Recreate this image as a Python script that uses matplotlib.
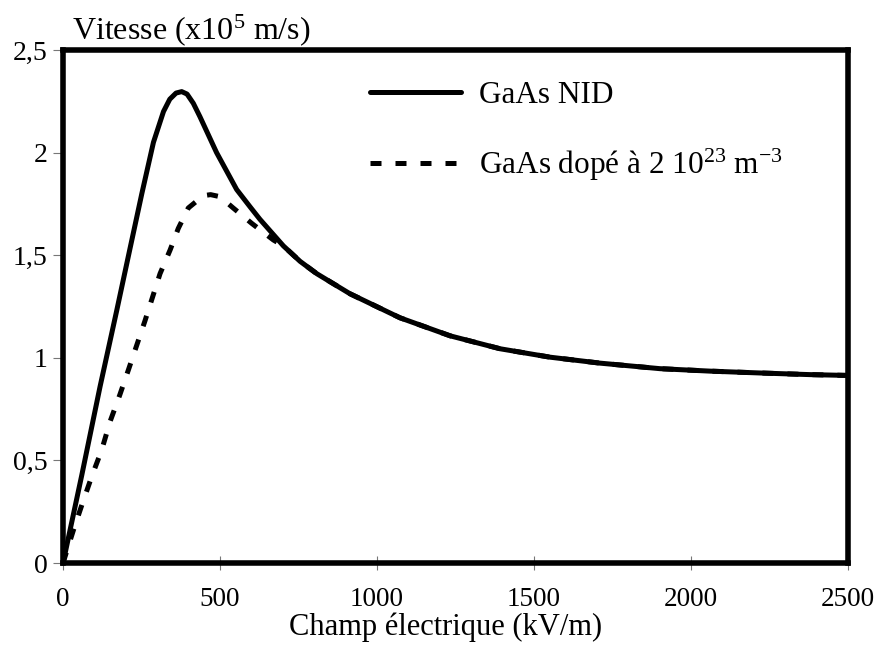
import matplotlib
matplotlib.use('Agg')
import matplotlib.pyplot as plt
from matplotlib.ticker import FixedLocator, FixedFormatter

# Values
field_nid = [0, 60, 118, 171, 213, 251, 288, 320, 340, 360, 378, 395, 415, 436, 489, 553,
             596, 627, 702, 755, 808, 914, 1073, 1233, 1392, 1551, 1710, 1901,
             2061, 2220, 2379, 2500]
speed_nid = [0, 0.43, 0.86, 1.23, 1.53, 1.80, 2.05, 2.20, 2.26, 2.29, 2.297, 2.285, 2.24,
             2.175, 2.0, 1.82, 1.735, 1.675, 1.545, 1.47, 1.41, 1.312, 1.195, 1.107,
             1.044, 1.003, 0.974, 0.947, 0.935, 0.926, 0.918, 0.914]

field_dop = [0, 33, 60, 91, 123, 150, 181, 208, 261, 309, 341, 367, 399, 447, 470, 500,
             542, 601, 670, 702, 755, 808, 914, 1073, 1233, 1392, 1551, 1710, 1901,
             2061, 2220, 2379, 2500]
speed_dop = [0, 0.16, 0.283, 0.42, 0.55, 0.69, 0.82, 0.94, 1.18, 1.41, 1.525, 1.63, 1.73,
             1.79, 1.795, 1.785, 1.73, 1.655, 1.574, 1.545, 1.47, 1.41, 1.312, 1.195,
             1.107, 1.044, 1.003, 0.974, 0.947, 0.935, 0.926, 0.918, 0.914]

xticks = [0, 500, 1000, 1500, 2000, 2500]
yticks = [0, 0.5, 1, 1.5, 2, 2.5]
ytick_labels = ['0', '0,5', '1', '1,5', '2', '2,5']

plt.rcParams['font.family'] = 'Liberation Serif'
plt.rcParams['mathtext.fontset'] = 'custom'
plt.rcParams['mathtext.rm'] = 'Liberation Serif'
plt.rcParams['mathtext.it'] = 'Liberation Serif'
plt.rcParams['font.size'] = 20

fig = plt.figure(figsize=(8.79, 6.47), dpi=100)
ax = fig.add_axes([0.0717, 0.1298, 0.893, 0.793])

ax.plot(field_dop, speed_dop, color='black', linewidth=3.6, dashes=(2.2, 2.8),
        dash_capstyle='butt', label='GaAs dopé à 2 10$^{23}$ m$^{-3}$', zorder=2)
ax.plot(field_nid, speed_nid, color='black', linewidth=3.6, solid_capstyle='round',
        solid_joinstyle='round', label='GaAs NID', zorder=3)

ax.set_xlim(0, 2500)
ax.set_ylim(0, 2.5)
ax.xaxis.set_major_locator(FixedLocator(xticks))
ax.yaxis.set_major_locator(FixedLocator(yticks))
ax.yaxis.set_major_formatter(FixedFormatter(ytick_labels))

for side in ax.spines.values():
    side.set_linewidth(4)
    side.set_color('black')

ax.tick_params(axis='x', direction='inout', length=10, width=0.8, color='#777777',
               pad=12, labelsize=19.5)
ax.tick_params(axis='y', direction='out', length=7, width=0.8, color='#777777', pad=4)

ax.set_xlabel('Champ électrique (kV/m)', fontsize=22)
ax.xaxis.set_label_coords(0.487, -0.097)
ax.text(0.012, 1.004, 'Vitesse (x10$^5$ m/s)', transform=ax.transAxes,
        ha='left', va='bottom', fontsize=23)

handles, labels = ax.get_legend_handles_labels()
ax.legend(handles[::-1], labels[::-1], loc='upper left', bbox_to_anchor=(0.391, 0.94),
          frameon=False, borderpad=0, borderaxespad=0, handlelength=2.9,
          handletextpad=0.6, labelspacing=1.2, fontsize=22.5)

fig.savefig('out.png', dpi=100)
